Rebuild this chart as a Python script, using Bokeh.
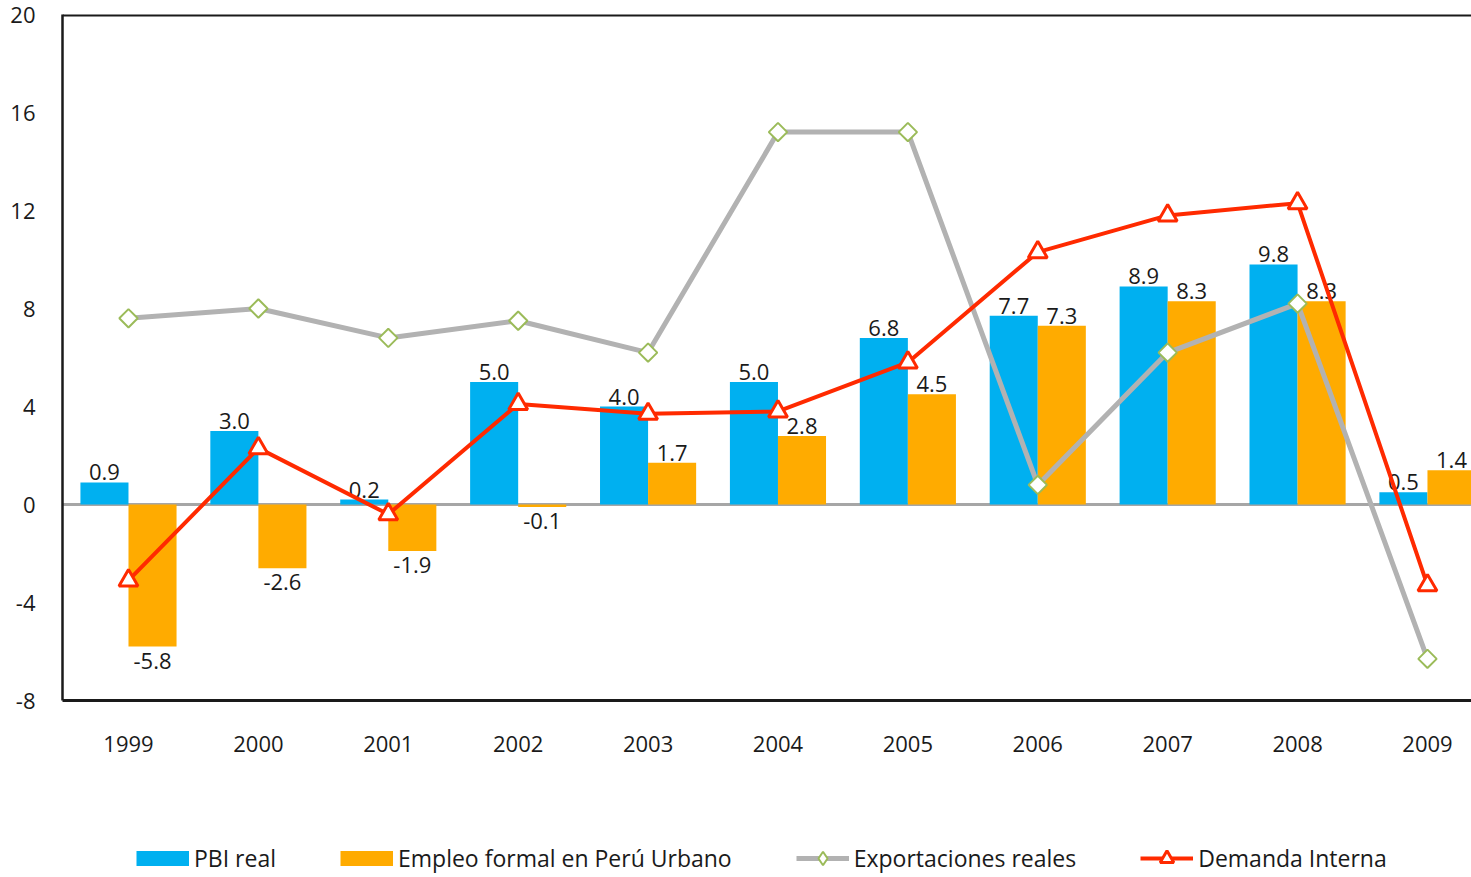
from bokeh.plotting import figure
from bokeh.layouts import column
from bokeh.models import (Range1d, FixedTicker, Span, Legend, LegendItem,
                          ColumnDataSource)
from bokeh.transform import dodge
from bokeh.embed import file_html
from bokeh.resources import INLINE
from bokeh.core.properties import value
import math

years = [1999, 2000, 2001, 2002, 2003, 2004, 2005, 2006, 2007, 2008, 2009]
year_labels = ["1999", "2000", "2001", "2002", "2003", "2004", "2005",
               "2006", "2007", "2008", "2009"]
pbi_real = [0.9, 3.0, 0.2, 5.0, 4.0, 5.0, 6.8, 7.7, 8.9, 9.8, 0.5]
empleo_formal = [-5.8, -2.6, -1.9, -0.1, 1.7, 2.8, 4.5, 7.3, 8.3, 8.3, 1.4]
exportaciones = [7.6, 8.0, 6.8, 7.5, 6.2, 15.2, 15.2, 0.8, 6.2, 8.2, -6.3]
demanda_interna = [-3.1, 2.3, -0.4, 4.1, 3.7, 3.8, 5.8, 10.3, 11.8, 12.3, -3.3]
y_ticks = [-8, -4, 0, 4, 8, 12, 16, 20]
y_tick_labels = ["-8", "-4", "0", "4", "8", "12", "16", "20"]
series_names = ["PBI real", "Empleo formal en Perú Urbano",
                "Exportaciones reales", "Demanda Interna"]

FONT = "Open Sans"
BLUE = "#00b0f0"
ORANGE = "#ffab00"
GRAY = "#b2b2b2"
GREEN = "#9bbb59"
RED = "#ff2a00"
TXT = "#1a1a1a"
BAR_W = 0.37
NAN = float("nan")

src = ColumnDataSource(dict(year=years, pbi=pbi_real, emp=empleo_formal,
                            exp=exportaciones, dem=demanda_interna))

p = figure(width=1471, height=770, output_backend="svg", toolbar_location=None,
           x_range=Range1d(1998.492, 2009.339), y_range=Range1d(-8, 20),
           min_border_left=62, min_border_top=14, min_border_bottom=70,
           min_border_right=0)
p.outline_line_color = None
p.xgrid.visible = False
p.ygrid.visible = False
p.background_fill_color = "white"
p.border_fill_color = "white"

# axes
p.yaxis.ticker = FixedTicker(ticks=y_ticks)
p.yaxis.major_label_overrides = {t: s for t, s in zip(y_ticks, y_tick_labels)}
p.yaxis.major_tick_line_color = None
p.yaxis.minor_tick_line_color = None
p.yaxis.axis_line_color = "#1a1a1a"
p.yaxis.axis_line_width = 2.5
p.yaxis.major_label_standoff = 21
p.yaxis.major_label_text_font = FONT
p.yaxis.major_label_text_font_size = "22px"
p.yaxis.major_label_text_color = TXT

p.xaxis.ticker = FixedTicker(ticks=years)
p.xaxis.major_label_overrides = {y: s for y, s in zip(years, year_labels)}
p.xaxis.major_tick_line_color = None
p.xaxis.minor_tick_line_color = None
p.xaxis.axis_line_color = "#1a1a1a"
p.xaxis.axis_line_width = 3
p.xaxis.major_label_standoff = 29
p.xaxis.major_label_text_font = FONT
p.xaxis.major_label_text_font_size = "22px"
p.xaxis.major_label_text_color = TXT

top_border = Span(location=20, dimension="width", line_color="#1a1a1a",
                  line_width=4)
p.add_layout(top_border)
zero_line = Span(location=0, dimension="width", line_color="#a6a6a6",
                 line_width=3, level="underlay")
p.add_layout(zero_line)

# bars
p.vbar(x=dodge("year", -BAR_W / 2, range=p.x_range), top="pbi",
       bottom=0, width=BAR_W, source=src, fill_color=BLUE, line_color=None)
p.vbar(x=dodge("year", BAR_W / 2, range=p.x_range), top="emp",
       bottom=0, width=BAR_W, source=src, fill_color=ORANGE, line_color=None)

# data labels (above positive bars, below negative bars)
lx, ly, lt, lo = [], [], [], []
for yr, a, b in zip(years, pbi_real, empleo_formal):
    for off, v in ((-BAR_W / 2, a), (BAR_W / 2, b)):
        lx.append(yr + off)
        ly.append(v)
        lt.append(f"{v:.1f}")
        lo.append(-10 if v >= 0 else 14)
lab_src = ColumnDataSource(dict(x=lx, y=ly, t=lt, o=lo))
p.text(x="x", y="y", text="t", source=lab_src, text_align="center",
       text_baseline="middle", y_offset="o", text_font=value(FONT),
       text_font_size="22px", text_color=TXT)

# lines
p.line(x="year", y="exp", source=src, line_color=GRAY, line_width=5)
p.scatter(x="year", y="exp", source=src, marker="square", angle=math.pi / 4,
          size=13, fill_color="white", line_color=GREEN, line_width=2)
p.line(x="year", y="dem", source=src, line_color=RED, line_width=4)
p.scatter(x="year", y="dem", source=src, marker="triangle", size=19,
          fill_color="white", line_color=RED, line_width=3)

# legend strip below the chart
q = figure(width=1471, height=107, output_backend="svg", toolbar_location=None,
           x_range=Range1d(0, 1), y_range=Range1d(0, 1),
           x_axis_type=None, y_axis_type=None, min_border=0)
q.outline_line_color = None
q.background_fill_color = "white"
q.border_fill_color = "white"
proxy = ColumnDataSource(dict(x=[NAN], y=[NAN]))
k_pbi = q.line(x="x", y="y", source=proxy, line_color=BLUE, line_width=15)
k_emp = q.line(x="x", y="y", source=proxy, line_color=ORANGE, line_width=15)
k_exp_l = q.line(x="x", y="y", source=proxy, line_color=GRAY, line_width=5)
k_exp = q.scatter(x="x", y="y", source=proxy, marker="diamond",
                  fill_color="white", line_color=GREEN, line_width=2)
k_dem_l = q.line(x="x", y="y", source=proxy, line_color=RED, line_width=4)
k_dem = q.scatter(x="x", y="y", source=proxy, marker="triangle",
                  fill_color="white", line_color=RED, line_width=3)

legend = Legend(items=[
    LegendItem(label=series_names[0], renderers=[k_pbi]),
    LegendItem(label=series_names[1], renderers=[k_emp]),
    LegendItem(label=series_names[2], renderers=[k_exp_l, k_exp]),
    LegendItem(label=series_names[3], renderers=[k_dem_l, k_dem]),
], orientation="horizontal", location=(74, 2), padding=0, margin=0,
    spacing=64, border_line_color=None, background_fill_alpha=0,
    glyph_width=53, glyph_height=34, label_standoff=5, label_text_font=FONT,
    label_text_font_size="23px", label_text_color=TXT)
q.add_layout(legend, "center")

open("out.html", "w").write(file_html(column(p, q, spacing=0), INLINE))
